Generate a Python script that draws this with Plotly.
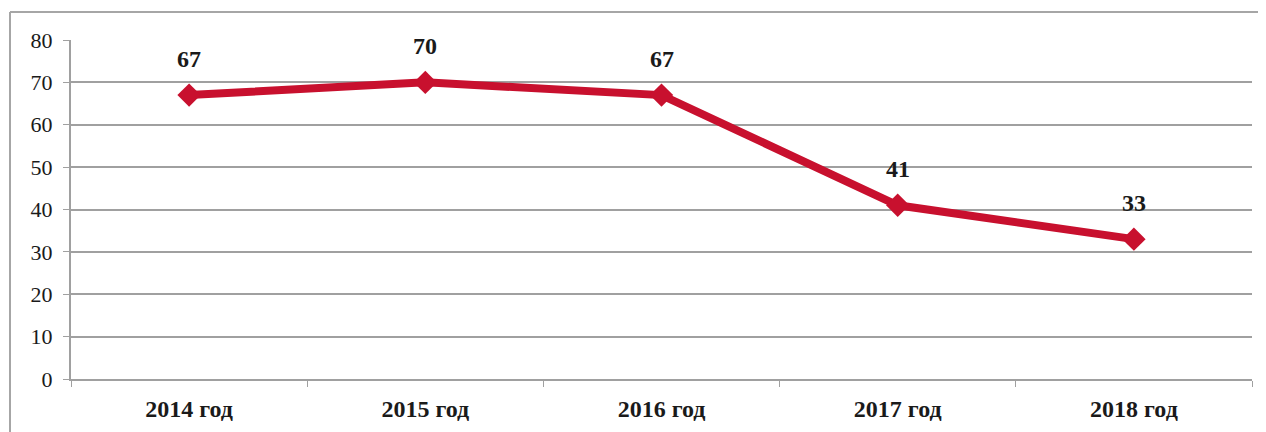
import plotly.graph_objects as go

categories = ["2014 год", "2015 год", "2016 год", "2017 год", "2018 год"]
values = [67, 70, 67, 41, 33]
y_ticks = [0, 10, 20, 30, 40, 50, 60, 70, 80]

W, H = 1266, 432
OFF = 8  # page body margin
ml, mr, mt, mb = 71 - OFF, 14 + OFF, 40 - OFF, 53 + OFF
pw, ph = W - ml - mr, H - mt - mb

fig = go.Figure()
fig.add_trace(go.Scatter(
    x=categories, y=values, mode="lines+markers",
    line=dict(color="#C8102E", width=8),
    marker=dict(symbol="diamond", size=18, color="#C8102E"),
    hoverinfo="skip", showlegend=False,
))

for c, v in zip(categories, values):
    fig.add_annotation(x=c, y=v, text=f"<b>{v}</b>", showarrow=False,
                       yshift=36, font=dict(family="Liberation Serif", size=24, color="#1a1a1a"))

# outer frame: only top and left edges are visible in the reference
fx0 = (10 - OFF - ml) / pw
fy1 = (H - mb - (12 - OFF)) / ph
fig.add_shape(type="line", xref="paper", yref="paper",
              x0=fx0, x1=(W - ml) / pw, y0=fy1, y1=fy1,
              line=dict(color="#A6A6A6", width=2), layer="below")
fig.add_shape(type="line", xref="paper", yref="paper",
              x0=fx0, x1=fx0, y0=-mb / ph, y1=fy1,
              line=dict(color="#A6A6A6", width=2), layer="below")

fig.update_layout(
    width=W, height=H,
    margin=dict(l=ml, r=mr, t=mt, b=mb),
    paper_bgcolor="white", plot_bgcolor="white",
    font=dict(family="Liberation Serif", color="#1a1a1a"),
    xaxis=dict(
        type="category", range=[-0.5, 4.5],
        showline=True, linecolor="#A0A0A0", linewidth=2,
        ticks="outside", tickson="boundaries", ticklen=6, tickcolor="#A0A0A0",
        tickfont=dict(size=24, family="Liberation Serif"),
        tickprefix="<b>", ticksuffix="</b>",
        ticklabelstandoff=7,
        showgrid=False,
    ),
    yaxis=dict(
        range=[0, 80], tickvals=y_ticks,
        showline=True, linecolor="#A0A0A0", linewidth=2,
        ticks="outside", ticklen=6, tickcolor="#A0A0A0",
        showgrid=True, gridcolor="#A0A0A0", gridwidth=2,
        tickfont=dict(size=22, family="Liberation Serif"),
        ticklabelstandoff=6,
        zeroline=False,
    ),
)

fig.write_html("out.html")
